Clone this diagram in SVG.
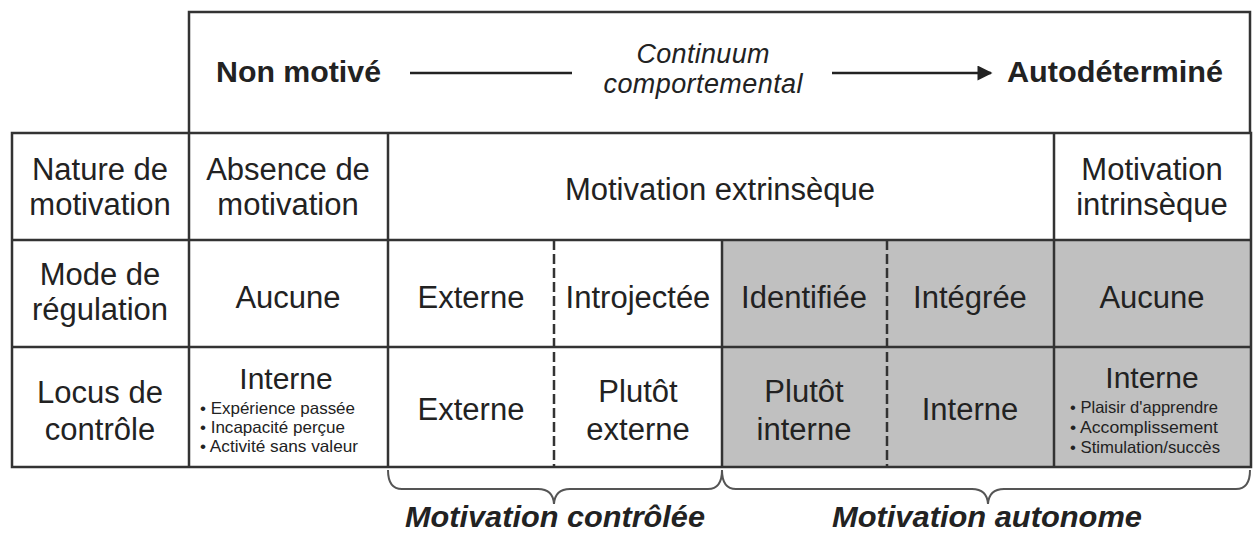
<svg xmlns="http://www.w3.org/2000/svg" width="1253" height="535" viewBox="0 0 1253 535">
<style>
  text { font-family: "Liberation Sans", Arial, sans-serif; fill: #222; }
  .c { font-size: 31px; text-anchor: middle; }
  .b { font-size: 30px; font-weight: bold; }
  .it { font-size: 27px; font-style: italic; text-anchor: middle; }
  .bl { font-size: 16.5px; }
  .lab { font-size: 29px; font-weight: bold; font-style: italic; }
  .grid { stroke: #333; stroke-width: 2.5; fill: none; }
  .dash { stroke: #333; stroke-width: 2.5; stroke-dasharray: 10 4; fill: none; }
  .brace { stroke: #555; stroke-width: 2; fill: none; }
  .conn { stroke: #222; stroke-width: 2.5; fill: none; }
</style>
<defs>
  <marker id="arrow" viewBox="0 0 10 10" refX="9" refY="5" markerWidth="7" markerHeight="6" markerUnits="strokeWidth" orient="auto">
    <path d="M0,0 L10,5 L0,10 Z" fill="#222"/>
  </marker>
</defs>
<rect width="1253" height="535" fill="#fff"/>

<!-- gray fill -->
<rect x="722" y="240" width="529" height="227" fill="#c0c0c0"/>

<!-- grid -->
<g id="grid">
  <path class="grid" d="M189,133 V12 H1250 V133"/>
  <rect class="grid" x="12" y="133" width="1239" height="334"/>
  <line class="grid" x1="12" y1="240" x2="1251" y2="240"/>
  <line class="grid" x1="12" y1="347" x2="1251" y2="347"/>
  <line class="grid" x1="189" y1="133" x2="189" y2="467"/>
  <line class="grid" x1="388" y1="133" x2="388" y2="467"/>
  <line class="grid" x1="722" y1="240" x2="722" y2="467"/>
  <line class="grid" x1="1054" y1="133" x2="1054" y2="467"/>
  <line class="dash" x1="554" y1="240" x2="554" y2="467"/>
  <line class="dash" x1="887" y1="240" x2="887" y2="467"/>
</g>

<!-- header -->
<g id="header">
  <text class="b" x="216" y="82" textLength="165" lengthAdjust="spacingAndGlyphs">Non motivé</text>
  <text class="it" x="703" y="63" textLength="133" lengthAdjust="spacing">Continuum</text>
  <text class="it" x="703" y="93" textLength="199" lengthAdjust="spacing">comportemental</text>
  <text class="b" x="1007" y="82" textLength="216" lengthAdjust="spacingAndGlyphs">Autodéterminé</text>
</g>

<g id="connectors">
  <line class="conn" x1="410" y1="73" x2="572" y2="73"/>
  <line class="conn" x1="832" y1="73" x2="991" y2="73" marker-end="url(#arrow)"/>
</g>

<!-- row 1 -->
<g id="nature-label">
  <text class="c" x="100" y="180">Nature de</text>
  <text class="c" x="100" y="215">motivation</text>
</g>
<g id="absence">
  <text class="c" x="288" y="180">Absence de</text>
  <text class="c" x="288" y="215">motivation</text>
</g>
<g id="extrinseque">
  <text class="c" x="720" y="200">Motivation extrinsèque</text>
</g>
<g id="intrinseque">
  <text class="c" x="1152" y="180">Motivation</text>
  <text class="c" x="1152" y="215">intrinsèque</text>
</g>

<!-- row 2 -->
<g id="mode-label">
  <text class="c" x="100" y="285">Mode de</text>
  <text class="c" x="100" y="320">régulation</text>
</g>
<g id="reg-aucune1"><text class="c" x="288" y="308">Aucune</text></g>
<g id="reg-externe"><text class="c" x="471" y="308">Externe</text></g>
<g id="reg-introjectee"><text class="c" x="638" y="308">Introjectée</text></g>
<g id="reg-identifiee"><text class="c" x="804" y="308">Identifiée</text></g>
<g id="reg-integree"><text class="c" x="970" y="308">Intégrée</text></g>
<g id="reg-aucune2"><text class="c" x="1152" y="308">Aucune</text></g>

<!-- row 3 -->
<g id="locus-label">
  <text class="c" x="100" y="403">Locus de</text>
  <text class="c" x="100" y="440">contrôle</text>
</g>
<g id="loc-interne1">
  <text class="c" x="286" y="389" style="font-size:30px">Interne</text>
  <text class="bl" x="200" y="414" textLength="155" lengthAdjust="spacingAndGlyphs">• Expérience passée</text>
  <text class="bl" x="200" y="433" textLength="145" lengthAdjust="spacingAndGlyphs">• Incapacité perçue</text>
  <text class="bl" x="200" y="452" textLength="158" lengthAdjust="spacingAndGlyphs">• Activité sans valeur</text>
</g>
<g id="loc-externe"><text class="c" x="471" y="420">Externe</text></g>
<g id="loc-plutot-externe">
  <text class="c" x="638" y="402">Plutôt</text>
  <text class="c" x="638" y="440">externe</text>
</g>
<g id="loc-plutot-interne">
  <text class="c" x="804" y="402">Plutôt</text>
  <text class="c" x="804" y="440">interne</text>
</g>
<g id="loc-interne2"><text class="c" x="970" y="420">Interne</text></g>
<g id="loc-interne3">
  <text class="c" x="1152" y="388" style="font-size:30px">Interne</text>
  <text class="bl" x="1070" y="413" textLength="148" lengthAdjust="spacingAndGlyphs">• Plaisir d'apprendre</text>
  <text class="bl" x="1070" y="433" textLength="148" lengthAdjust="spacingAndGlyphs">• Accomplissement</text>
  <text class="bl" x="1070" y="453" textLength="150" lengthAdjust="spacingAndGlyphs">• Stimulation/succès</text>
</g>

<!-- braces -->
<g id="controlled">
  <path class="brace" d="M388,470 Q388,489 402,489 L538,489 Q553,489 554,504 Q555,489 570,489 L708,489 Q722,489 722,470"/>
  <text class="lab" x="405" y="527" textLength="300" lengthAdjust="spacingAndGlyphs">Motivation contrôlée</text>
</g>
<g id="autonomous">
  <path class="brace" d="M722,470 Q722,489 736,489 L972,489 Q987,489 988,504 Q989,489 1004,489 L1236,489 Q1250,489 1250,470"/>
  <text class="lab" x="832" y="527" textLength="310" lengthAdjust="spacingAndGlyphs">Motivation autonome</text>
</g>
</svg>
